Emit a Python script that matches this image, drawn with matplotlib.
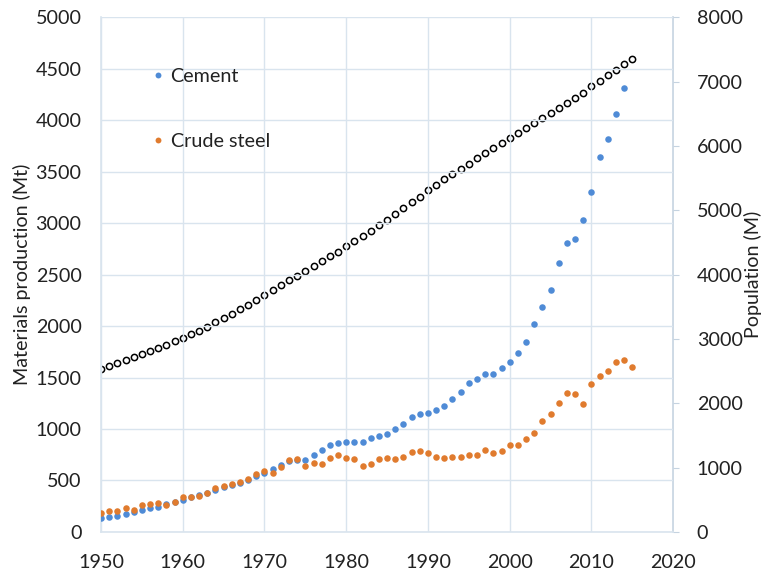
import matplotlib
matplotlib.use("Agg")
import matplotlib.pyplot as plt
import numpy as np

plt.rcParams['font.family'] = ['Lato', 'DejaVu Sans']

years_pop = list(range(1950, 2016))
population = [2525, 2572, 2619, 2665, 2713, 2761, 2810, 2860, 2912, 2965,
              3018, 3073, 3130, 3192, 3256, 3322, 3389, 3458, 3528, 3601,
              3682, 3758, 3834, 3909, 3984, 4059, 4133, 4207, 4281, 4357,
              4440, 4518, 4599, 4682, 4765, 4852, 4941, 5030, 5121, 5212,
              5310, 5395, 5479, 5562, 5645, 5726, 5806, 5885, 5964, 6042,
              6127, 6204, 6281, 6358, 6434, 6511, 6588, 6665, 6743, 6821,
              6930, 7013, 7097, 7181, 7265, 7349]

years_cement = list(range(1950, 2015))
cement = [133, 145, 158, 172, 190, 210, 228, 245, 268, 292,
          315, 335, 355, 380, 410, 432, 460, 478, 508, 545,
          572, 612, 650, 692, 700, 695, 747, 795, 845, 865,
          872, 875, 878, 910, 932, 954, 1003, 1048, 1113, 1145,
          1155, 1184, 1223, 1291, 1362, 1443, 1485, 1534, 1534, 1589,
          1654, 1735, 1845, 2022, 2184, 2347, 2612, 2803, 2845, 3029,
          3298, 3638, 3813, 4061, 4308]

years_steel = list(range(1950, 2016))
steel = [189, 205, 208, 230, 215, 265, 275, 285, 262, 294,
         335, 338, 350, 375, 424, 450, 466, 482, 518, 563,
         590, 568, 631, 695, 705, 643, 670, 665, 715, 744,
         716, 708, 643, 662, 712, 714, 706, 730, 772, 786,
         768, 730, 720, 724, 724, 746, 746, 796, 770, 789,
         845, 845, 900, 966, 1076, 1146, 1249, 1348, 1343, 1240,
         1434, 1518, 1563, 1651, 1673, 1599]

xticks = [1950, 1960, 1970, 1980, 1990, 2000, 2010, 2020]
left_ticks = list(range(0, 5001, 500))
right_ticks = list(range(0, 8001, 1000))

blue = '#4F8BD6'
orange = '#E07B2E'
grid_c = '#D9E4EE'
txt_c = '#222222'
fs = 14.2

fig = plt.figure(figsize=(7.65, 5.73), dpi=100)
ax = fig.add_axes([0.132, 0.0716, 0.748, 0.8984])
ax2 = ax.twinx()

ax.set_xlim(1950, 2020)
ax.set_ylim(0, 5000)
ax2.set_ylim(0, 8000)

ax.set_xticks(xticks)
ax.set_yticks(left_ticks)
ax2.set_yticks(right_ticks)

ax.grid(True, color=grid_c, linewidth=1.0)
ax.set_axisbelow(True)

ax.spines['top'].set_visible(False)
ax2.spines['top'].set_visible(False)
ax.spines['right'].set_visible(False)
ax2.spines['left'].set_visible(False)
ax2.spines['bottom'].set_visible(False)
for s in ['left', 'bottom']:
    ax.spines[s].set_color(grid_c)
    ax.spines[s].set_linewidth(1.2)
ax2.spines['right'].set_color('#C5D3E0')
ax2.spines['right'].set_linewidth(1.2)

ax.tick_params(axis='y', length=0, labelsize=fs, labelcolor=txt_c, pad=14)
ax.tick_params(axis='x', length=0, labelsize=fs, labelcolor=txt_c, pad=16)
ax2.tick_params(axis='y', length=4, color='#C5D3E0', labelsize=fs, labelcolor=txt_c, pad=13)

ax2.plot(years_pop, population, linestyle='none', marker='o', markersize=4.5,
         markerfacecolor='white', markeredgecolor='black', markeredgewidth=1.1, zorder=3)
ax.plot(years_cement, cement, linestyle='none', marker='o', markersize=4.7,
        color=blue, markeredgewidth=0, zorder=4, label='Cement')
ax.plot(years_steel, steel, linestyle='none', marker='o', markersize=4.7,
        color=orange, markeredgewidth=0, zorder=5, label='Crude steel')

ax.set_zorder(ax2.get_zorder() + 1)
ax.patch.set_visible(False)

ax.set_ylabel('Materials production (Mt)', fontsize=fs, color=txt_c, labelpad=3)
ax2.set_ylabel('Population (M)', fontsize=fs, color=txt_c, labelpad=1)

leg = ax.legend(loc='upper left', bbox_to_anchor=(0.075, 0.916), frameon=False,
                fontsize=fs, handletextpad=0.35, labelspacing=2.4, handlelength=0.6,
                borderpad=0.4, borderaxespad=0, markerscale=0.9)
for t in leg.get_texts():
    t.set_color(txt_c)

fig.savefig('out.png', dpi=100)
